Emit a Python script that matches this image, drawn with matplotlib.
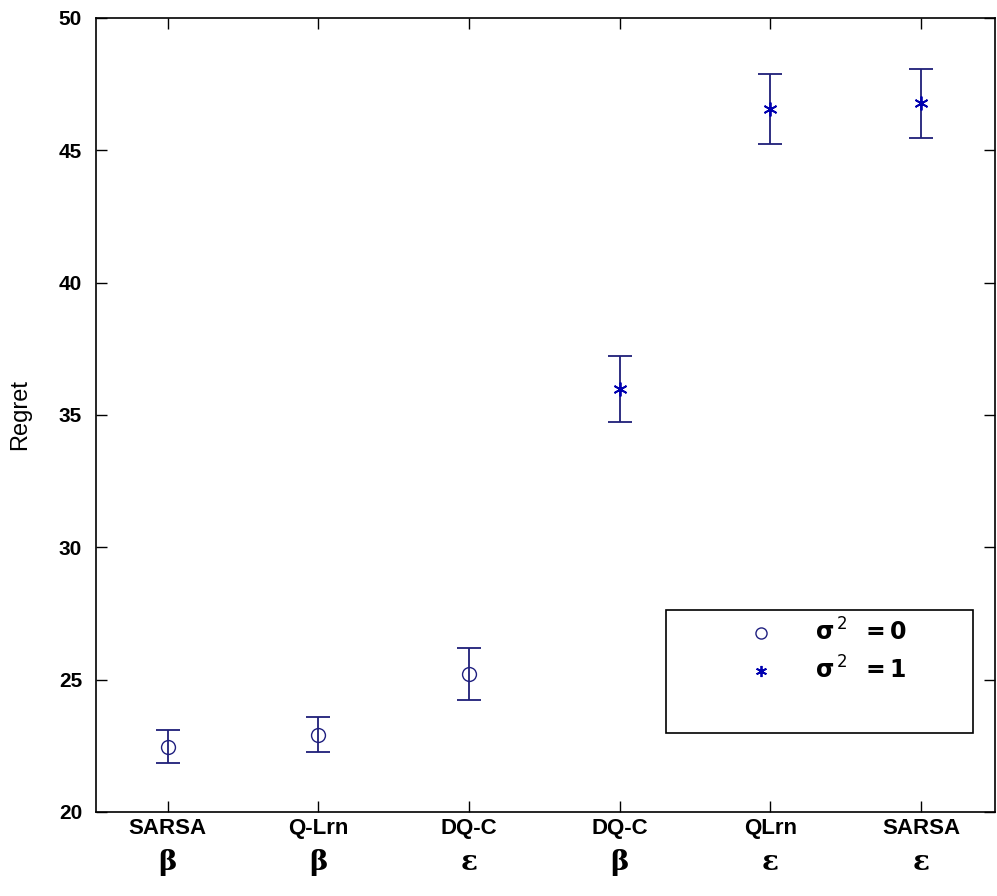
import matplotlib
matplotlib.use('Agg')
import matplotlib.pyplot as plt
from matplotlib.patches import Rectangle

methods = ['SARSA', 'Q-Lrn', 'DQ-C', 'DQ-C', 'QLrn', 'SARSA']
params = ['β', 'β', 'ε', 'β', 'ε', 'ε']

# sigma^2 = 0 runs (first three) and sigma^2 = 1 runs (last three)
x0 = [1, 2, 3]
regret0 = [22.47, 22.91, 25.22]
err0 = [0.63, 0.66, 0.98]

x1 = [4, 5, 6]
regret1 = [35.98, 46.56, 46.78]
err1 = [1.25, 1.34, 1.30]

plt.rcParams['font.family'] = ['Liberation Sans', 'DejaVu Sans']

fig = plt.figure(figsize=(9.97, 8.96), dpi=100)
ax = fig.add_axes([0.0963, 0.0938, 0.9017, 0.8862])

bar_col = '#1f1f78'
ax.errorbar(x0, regret0, yerr=err0, fmt='none', ecolor=bar_col, elinewidth=1.3,
            capsize=8.5, capthick=1.3)
ax.errorbar(x1, regret1, yerr=err1, fmt='none', ecolor=bar_col, elinewidth=1.3,
            capsize=8.5, capthick=1.3)
h0, = ax.plot(x0, regret0, 'o', mfc='none', mec='#202080', ms=10, mew=1.0,
              linestyle='none')
h1, = ax.plot(x1, regret1, marker=(6, 2, 0), color='#0000b0', ms=10, mew=1.3,
              linestyle='none')

ax.set_xlim(0.525, 6.49)
ax.set_ylim(20, 50)
ax.set_yticks([20, 25, 30, 35, 40, 45, 50])
ax.set_xticks([1, 2, 3, 4, 5, 6])
ax.set_xticklabels(methods, fontsize=16, fontweight='bold')
for lab in ax.get_yticklabels():
    lab.set_fontsize(15)
    lab.set_fontweight('bold')
ax.tick_params(direction='in', top=True, right=True, length=8, width=1.0, pad=10)
ax.tick_params(axis='x', pad=4)
ax.set_ylabel('Regret', fontsize=17, labelpad=20)

for i, p in enumerate(params):
    ax.text(i + 1, -0.064, p, transform=ax.get_xaxis_transform(), ha='center',
            va='center', fontsize=20, fontweight='bold', family='DejaVu Serif')

for s in ax.spines.values():
    s.set_linewidth(1.2)

# legend box drawn by hand to match the size of the original
ax.add_patch(Rectangle((0.634, 0.0995), 0.342, 0.1545, transform=ax.transAxes,
                       fill=False, lw=1.2, ec='black', zorder=5))
leg = ax.legend([h0, h1], [r'$\mathbf{\sigma}^{\,2}$  $\mathbf{=0}$',
                           r'$\mathbf{\sigma}^{\,2}$  $\mathbf{=1}$'],
                loc='upper left', bbox_to_anchor=(0.69, 0.27), frameon=False,
                handletextpad=1.3, labelspacing=0.45, markerscale=0.8,
                prop={'size': 17, 'weight': 'bold'})

fig.savefig('out.png', dpi=100)
